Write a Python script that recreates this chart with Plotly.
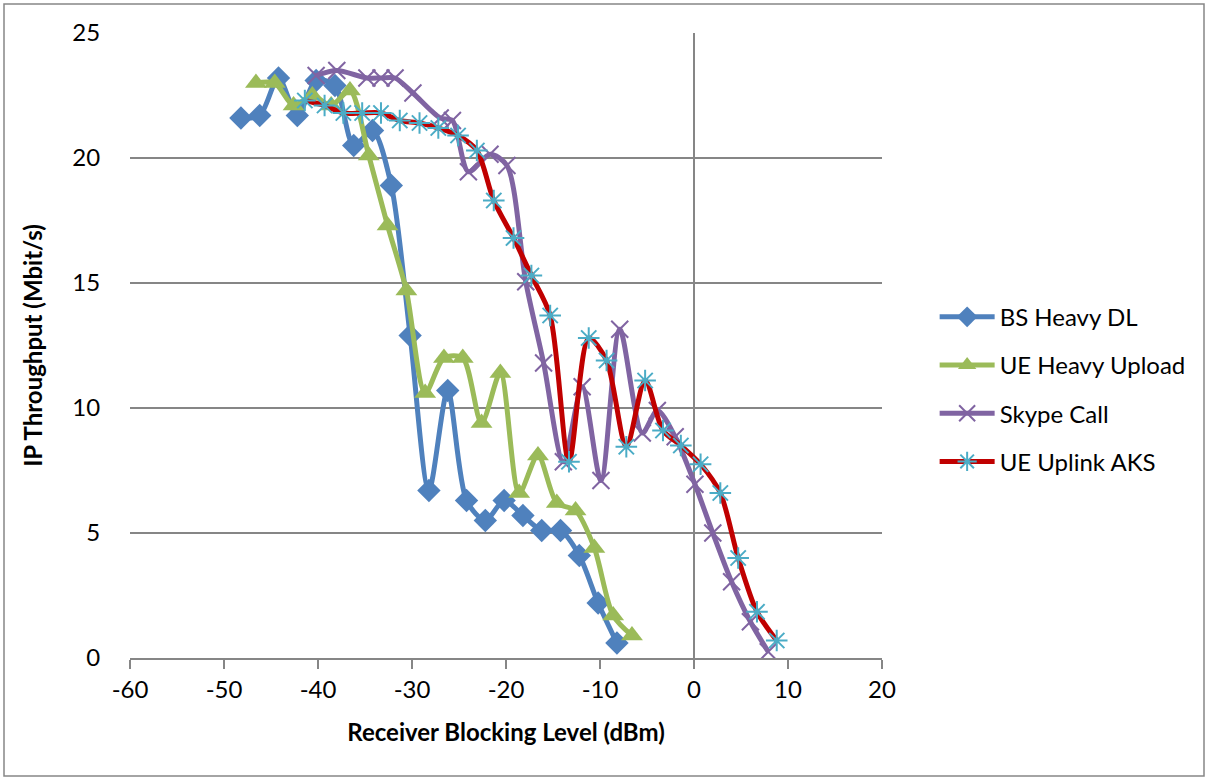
import plotly.graph_objects as go

# BS Heavy DL
bs_x = [-48.2, -46.2, -44.2, -42.2, -40.2, -38.2, -36.2, -34.2, -32.2, -30.2, -28.2,
        -26.2, -24.2, -22.2, -20.2, -18.2, -16.2, -14.2, -12.2, -10.2, -8.2]
bs_y = [21.6, 21.7, 23.2, 21.7, 23.1, 22.9, 20.5, 21.1, 18.9, 12.9, 6.7,
        10.7, 6.3, 5.5, 6.3, 5.7, 5.1, 5.1, 4.1, 2.2, 0.6]

# UE Heavy Upload
ue_x = [-46.6, -44.6, -42.6, -40.6, -38.6, -36.6, -34.6, -32.6, -30.6, -28.6, -26.6,
        -24.6, -22.6, -20.6, -18.6, -16.6, -14.6, -12.6, -10.6, -8.6, -6.6]
ue_y = [23.0, 23.0, 22.1, 22.5, 22.1, 22.7, 20.1, 17.3, 14.7, 10.6, 12.0,
        12.0, 9.4, 11.4, 6.6, 8.1, 6.2, 5.9, 4.4, 1.7, 0.9]

# Skype Call
sk_x = [-40.2, -38.0, -34.8, -33.3, -31.8, -29.9, -27.0, -25.7, -24.0, -21.7, -19.9,
        -17.9, -16.0, -13.9, -11.9, -9.9, -7.9, -5.5, -3.9, -2.0, 0.1, 2.0, 4.0, 6.0, 7.9]
sk_y = [23.3, 23.5, 23.2, 23.2, 23.2, 22.6, 21.6, 21.5, 19.45, 20.15, 19.7,
        15.05, 11.8, 7.85, 10.85, 7.1, 13.15, 9.0, 9.9, 8.85, 6.95, 5.0, 3.05, 1.45, 0.25]

# UE Uplink AKS
ak_x = [-41.4, -39.3, -37.3, -35.3, -33.3, -31.3, -29.2, -27.2, -25.1, -23.1, -21.3,
        -19.2, -17.3, -15.3, -13.3, -11.2, -9.3, -7.2, -5.2, -3.3, -1.4, 0.7, 2.8,
        4.7, 6.7, 8.8]
ak_y = [22.3, 22.1, 21.8, 21.8, 21.8, 21.5, 21.4, 21.2, 20.9, 20.3, 18.3,
        16.8, 15.3, 13.7, 7.85, 12.8, 11.9, 8.45, 11.1, 9.1, 8.5, 7.75, 6.6,
        4.0, 1.85, 0.7]

x_ticks = [-60, -50, -40, -30, -20, -10, 0, 10, 20]
y_ticks = [0, 5, 10, 15, 20, 25]

FONT = "Lato"
FS = 24

fig = go.Figure()
fig.add_trace(go.Scatter(
    x=bs_x, y=bs_y, name="BS Heavy DL", mode="lines+markers", legendgroup="a",
    line=dict(color="#4F81BD", width=5, shape="spline", smoothing=0.8),
    marker=dict(symbol="diamond", size=18, color="#4F81BD")))
fig.add_trace(go.Scatter(
    x=ue_x, y=ue_y, name="UE Heavy Upload", mode="lines+markers", legendgroup="b",
    line=dict(color="#9BBB59", width=5, shape="spline", smoothing=0.8),
    marker=dict(symbol="triangle-up", size=19, color="#9BBB59")))
fig.add_trace(go.Scatter(
    x=sk_x, y=sk_y, name="Skype Call", mode="lines+markers", legendgroup="c",
    line=dict(color="#8064A2", width=5, shape="spline", smoothing=0.8),
    marker=dict(symbol="x-thin-open", size=17, color="#8064A2",
                line=dict(width=2, color="#8064A2"))))
fig.add_trace(go.Scatter(
    x=ak_x, y=ak_y, name="UE Uplink AKS", mode="lines+markers", legendgroup="d",
    line=dict(color="#C00000", width=5, shape="spline", smoothing=0.8),
    marker=dict(symbol="asterisk-open", size=18, color="#4BACC6",
                line=dict(width=2, color="#4BACC6"))))

# outer chart border
fig.add_shape(type="rect", xref="paper", yref="paper",
              x0=(4 - 130) / 752, x1=(1204 - 130) / 752,
              y0=(658 - 776) / 625, y1=(658 - 4) / 625,
              line=dict(color="#868686", width=1.5), fillcolor="rgba(0,0,0,0)",
              layer="below")

fig.update_layout(
    width=1208, height=780,
    margin=dict(l=130, r=326, t=33, b=122),
    paper_bgcolor="white", plot_bgcolor="white",
    font=dict(family=FONT, size=FS, color="#000000"),
    showlegend=True,
    legend=dict(x=1.07, y=0.43, xanchor="left", yanchor="middle",
                font=dict(family=FONT, size=FS), itemwidth=55,
                bgcolor="rgba(0,0,0,0)", tracegroupgap=14),
    xaxis=dict(
        range=[-60, 20], tickmode="array", tickvals=x_ticks,
        ticktext=[str(v) for v in x_ticks],
        showgrid=False, zeroline=True, zerolinecolor="#868686", zerolinewidth=2,
        showline=True, linecolor="#868686", linewidth=2,
        ticks="outside", ticklen=9, tickcolor="#868686", tickwidth=2,
        tickfont=dict(family=FONT, size=FS),
        title=dict(text="<b>Receiver Blocking Level (dBm)</b>", standoff=22,
                   font=dict(family=FONT, size=FS)),
    ),
    yaxis=dict(
        range=[0, 25], tickmode="array", tickvals=y_ticks,
        ticktext=[str(v) for v in y_ticks],
        showgrid=True, gridcolor="#868686", gridwidth=2,
        zeroline=False, showline=False,
        ticks="outside", ticklen=24, tickcolor="rgba(0,0,0,0)",
        tickfont=dict(family=FONT, size=FS),
        title=dict(text="<b>IP Throughput (Mbit/s)</b>", standoff=22,
                   font=dict(family=FONT, size=FS)),
    ),
)

fig.write_html("out.html")
